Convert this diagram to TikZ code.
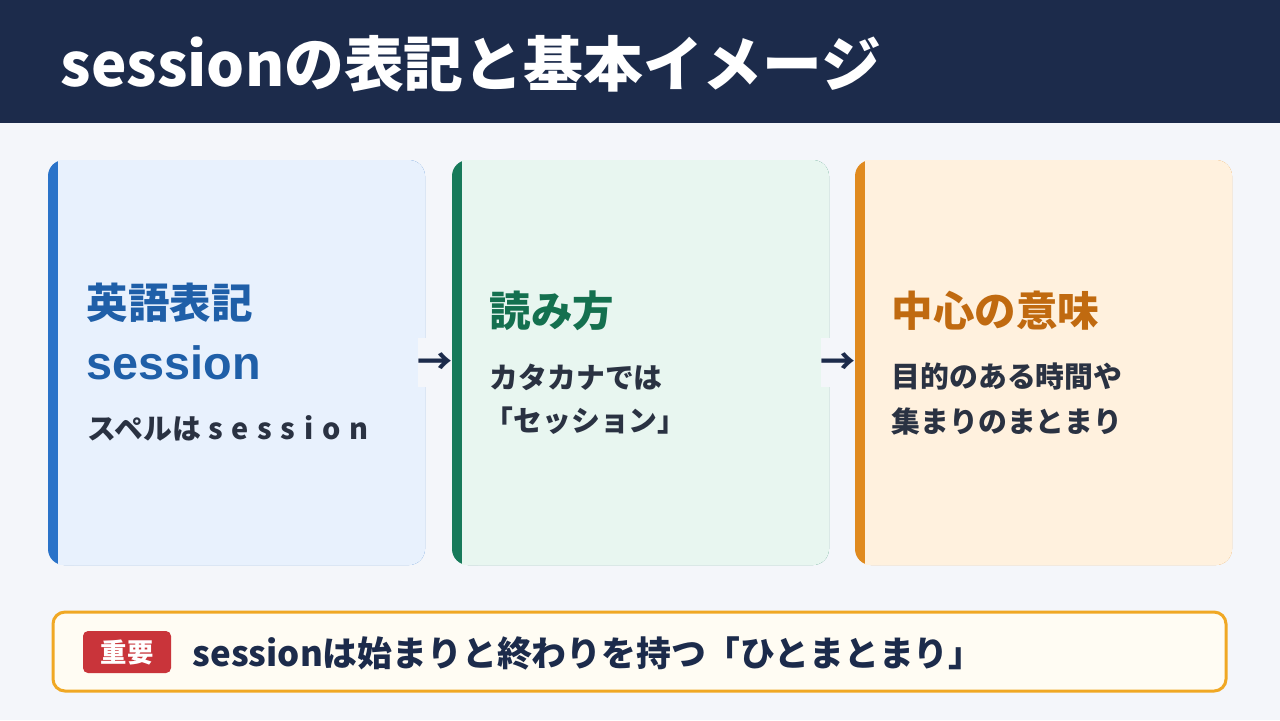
\documentclass[tikz,border=0pt]{standalone}
\usepackage{fontspec}
\setmainfont{Noto Sans CJK JP}
\newfontfamily\wordfont{Liberation Sans}
\usetikzlibrary{positioning}
\definecolor{navy}{HTML}{1C2B4B}
\definecolor{pagebg}{HTML}{F4F6FA}
\definecolor{bluebar}{HTML}{2A73C9}
\definecolor{bluefill}{HTML}{E8F1FD}
\definecolor{bluetxt}{HTML}{1F5FA8}
\definecolor{greenbar}{HTML}{177A5A}
\definecolor{greenfill}{HTML}{E8F6F0}
\definecolor{greentxt}{HTML}{14704F}
\definecolor{orangebar}{HTML}{E08A1E}
\definecolor{orangefill}{HTML}{FFF1DE}
\definecolor{orangetxt}{HTML}{C06A10}
\definecolor{bodytxt}{HTML}{2A3242}
\definecolor{notefill}{HTML}{FFFCF3}
\definecolor{noteline}{HTML}{F0A824}
\definecolor{badgered}{HTML}{C9343A}
\tikzset{
  card/.style={rounded corners=16*0.2845pt},
  heading/.style={anchor=west,inner sep=0pt,font=\fontsize{11.8}{13}\selectfont\bfseries},
  body/.style={anchor=west,inner sep=0pt,text=bodytxt,font=\fontsize{8.2}{10}\selectfont\bfseries},
  flow/.style={anchor=center,text=navy,font=\fontsize{10}{10}\selectfont\bfseries},
}
\begin{document}
\begin{tikzpicture}[x=0.01cm,y=-0.01cm]
\useasboundingbox (0,0) rectangle (1280,720);
\fill[pagebg] (0,0) rectangle (1280,720);
\fill[navy] (0,0) rectangle (1280,123);
\node[anchor=west,inner sep=0pt,text=white,font=\fontsize{17}{19}\selectfont\bfseries] (title) at (60,64) {sessionの表記と基本イメージ};
% cards
\foreach \x/\bar/\fil in {48/bluebar/bluefill,452/greenbar/greenfill,855/orangebar/orangefill}{
  \fill[\bar,card] (\x,160) rectangle (\x+377,565);
  \fill[\fil,card] (\x+10,160) rectangle (\x+377,565);
  \fill[\fil] (\x+10,160) rectangle (\x+30,565);
}
% connectors gaps
\fill[pagebg] (418,338) rectangle (451,387);
\fill[pagebg] (821,338) rectangle (855,387);
\node[heading,text=bluetxt] (eigo) at (86,303) {英語表記};
\node[anchor=west,inner sep=0pt,text=bluetxt,font=\wordfont\fontsize{13.3}{15}\selectfont\bfseries] (word) at (86,363) {session};
\node[body] (spell) at (87,428) {スペルは\hspace{0.25em}s\hspace{0.3em}e\hspace{0.3em}s\hspace{0.3em}s\hspace{0.3em}i\hspace{0.3em}o\hspace{0.3em}n};
\node[heading,text=greentxt] (yomi) at (489,311) {読み方};
\node[body] (kana1) at (489,377) {カタカナでは};
\node[body] (kana2) at (484,421) {「セッション」};
\node[heading,text=orangetxt] (imi) at (891,311) {中心の意味};
\node[body] (mean1) at (891,377) {目的のある時間や};
\node[body] (mean2) at (891,421) {集まりのまとまり};
\node[flow] (arr1) at (435,364) {→};
\node[flow] (arr2) at (838,364) {→};
% note
\draw[noteline,line width=3*0.2845pt,fill=notefill,rounded corners=12*0.2845pt] (53,612) rectangle (1226,691);
\fill[badgered,rounded corners=5*0.2845pt] (83,631) rectangle (171,673);
\node[text=white,font=\fontsize{7.5}{8}\selectfont\bfseries] (badge) at (127,652) {重要};
\node[anchor=west,inner sep=0pt,text=navy,font=\fontsize{9.9}{11}\selectfont\bfseries] (note) at (192,653) {sessionは始まりと終わりを持つ「ひとまとまり」};
\end{tikzpicture}
\end{document}
